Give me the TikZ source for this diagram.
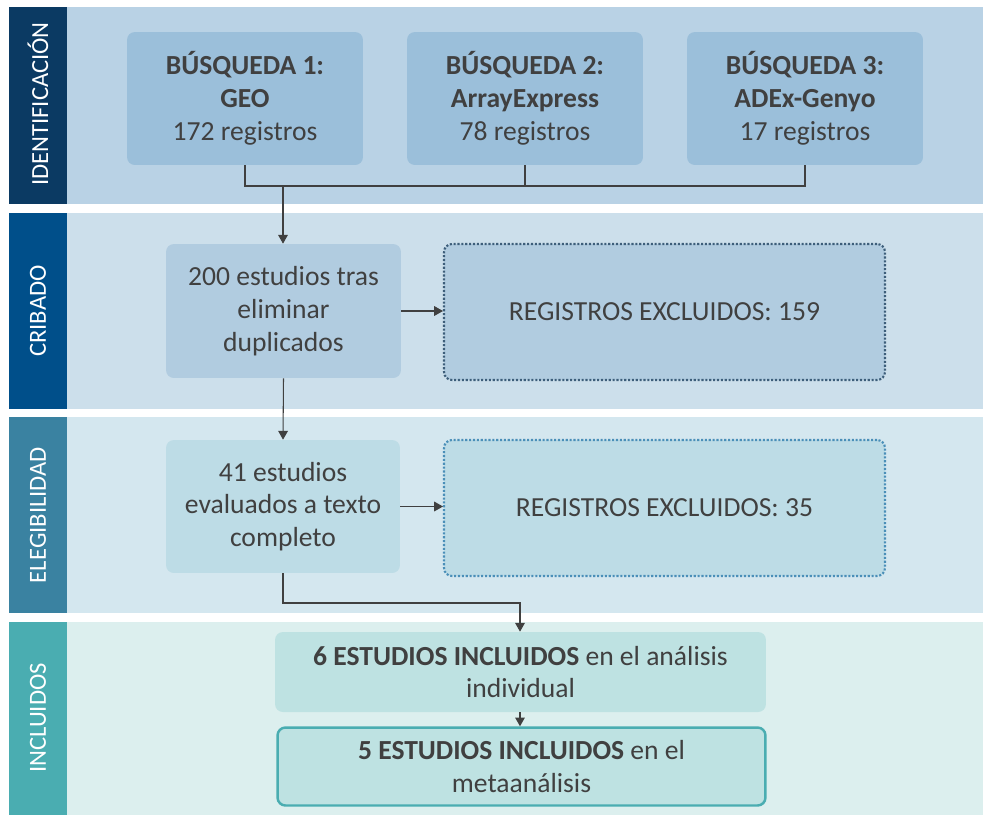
\documentclass[tikz,border=0pt]{standalone}
\usepackage{fontspec}
\setmainfont{Carlito}
\usetikzlibrary{arrows.meta}

\definecolor{txt}{HTML}{404040}
\definecolor{barA}{HTML}{0B3A63}
\definecolor{barB}{HTML}{004F8A}
\definecolor{barC}{HTML}{3A82A1}
\definecolor{barD}{HTML}{4AADB1}
\definecolor{bgA}{HTML}{B9D2E5}
\definecolor{bgB}{HTML}{CCDFEB}
\definecolor{bgC}{HTML}{D4E7EF}
\definecolor{bgD}{HTML}{DCEFEE}
\definecolor{boxA}{HTML}{9BBFDA}
\definecolor{boxB}{HTML}{B1CCE0}
\definecolor{boxC}{HTML}{BDDCE6}
\definecolor{boxD}{HTML}{BEE2E2}
\definecolor{dotA}{HTML}{3D5E7A}
\definecolor{dotB}{HTML}{4A8FB8}

\tikzset{
  stagebox/.style={rounded corners=4.5pt, align=center, text=txt,
    font=\fontsize{15.7}{18.7}\selectfont, inner sep=2pt},
  stagelabel/.style={rotate=90, text=white, font=\fontsize{14}{16}\selectfont},
  exclbox/.style={stagebox, draw, densely dotted, line width=1.2pt},
  link/.style={draw=txt, line width=0.6pt},
  arrow/.style={link, -{Triangle[length=5pt,width=5.5pt]}},
}

\begin{document}
\begin{tikzpicture}[x=0.02cm, y=-0.02cm]
  \useasboundingbox (0,0) rectangle (983,815);

  % bands
  \fill[bgA] (67,7) rectangle (983,204);
  \fill[barA] (9,7) rectangle (67,204);
  \fill[bgB] (67,213) rectangle (983,409);
  \fill[barB] (9,213) rectangle (67,409);
  \fill[bgC] (67,417) rectangle (983,613);
  \fill[barC] (9,417) rectangle (67,613);
  \fill[bgD] (67,622) rectangle (983,815);
  \fill[barD] (9,622) rectangle (67,815);

  \node[stagelabel] (lbl1) at (38,104) {IDENTIFICACIÓN};
  \node[stagelabel] (lbl2) at (38,311) {CRIBADO};
  \node[stagelabel] (lbl3) at (38,515) {ELEGIBILIDAD};
  \node[stagelabel] (lbl4) at (38,718) {INCLUIDOS};

  % identificacion
  \node[stagebox, fill=boxA, minimum width=4.72cm, minimum height=2.66cm] (geo) at (245,98.5)
    {\textbf{BÚSQUEDA 1:}\\\textbf{GEO}\\172 registros};
  \node[stagebox, fill=boxA, minimum width=4.72cm, minimum height=2.66cm] (ae) at (525,98.5)
    {\textbf{BÚSQUEDA 2:}\\\textbf{ArrayExpress}\\78 registros};
  \node[stagebox, fill=boxA, minimum width=4.72cm, minimum height=2.66cm] (adex) at (805,98.5)
    {\textbf{BÚSQUEDA 3:}\\\textbf{ADEx-Genyo}\\17 registros};

  % cribado
  \node[stagebox, fill=boxB, minimum width=4.7cm, minimum height=2.68cm] (crib) at (283.5,311)
    {200 estudios tras\\eliminar\\duplicados};
  \node[exclbox, draw=dotA, fill=boxB, minimum width=8.82cm, minimum height=2.72cm] (excl1) at (664.5,312)
    {REGISTROS EXCLUIDOS: 159};

  % elegibilidad
  \node[stagebox, fill=boxC, minimum width=4.68cm, minimum height=2.66cm] (eleg) at (283,506.5)
    {41 estudios\\evaluados a texto\\completo};
  \node[exclbox, draw=dotB, fill=boxC, minimum width=8.82cm, minimum height=2.72cm] (excl2) at (664.5,508)
    {REGISTROS EXCLUIDOS: 35};

  % incluidos
  \node[stagebox, fill=boxD, minimum width=9.82cm, minimum height=1.6cm] (inc6) at (520.5,672)
    {\textbf{6 ESTUDIOS INCLUIDOS} en el análisis\\individual};
  \node[stagebox, draw=barD, line width=1.4pt, fill=boxD, minimum width=9.76cm, minimum height=1.56cm] (inc5) at (521.5,766.5)
    {\textbf{5 ESTUDIOS INCLUIDOS} en el\\metaanálisis};

  % connectors
  \coordinate (jn) at (283,186);
  \coordinate (bend) at (520,603);
  \draw[link] (geo.south) |- (adex.south |- jn) -- (adex.south);
  \draw[link] (ae.south) -- (ae.south |- jn);
  \draw[arrow] (jn) -- (jn |- crib.north);
  \draw[arrow] (crib.east) -- (crib.east -| excl1.west);
  \draw[arrow] (crib.south) -- (eleg.north);
  \draw[arrow] (eleg.east) -- (eleg.east -| excl2.west);
  \draw[arrow] (eleg.south) |- (bend) -- (bend |- inc6.north);
  \draw[arrow] (inc6.south -| bend) -- (inc5.north -| bend);
\end{tikzpicture}
\end{document}
